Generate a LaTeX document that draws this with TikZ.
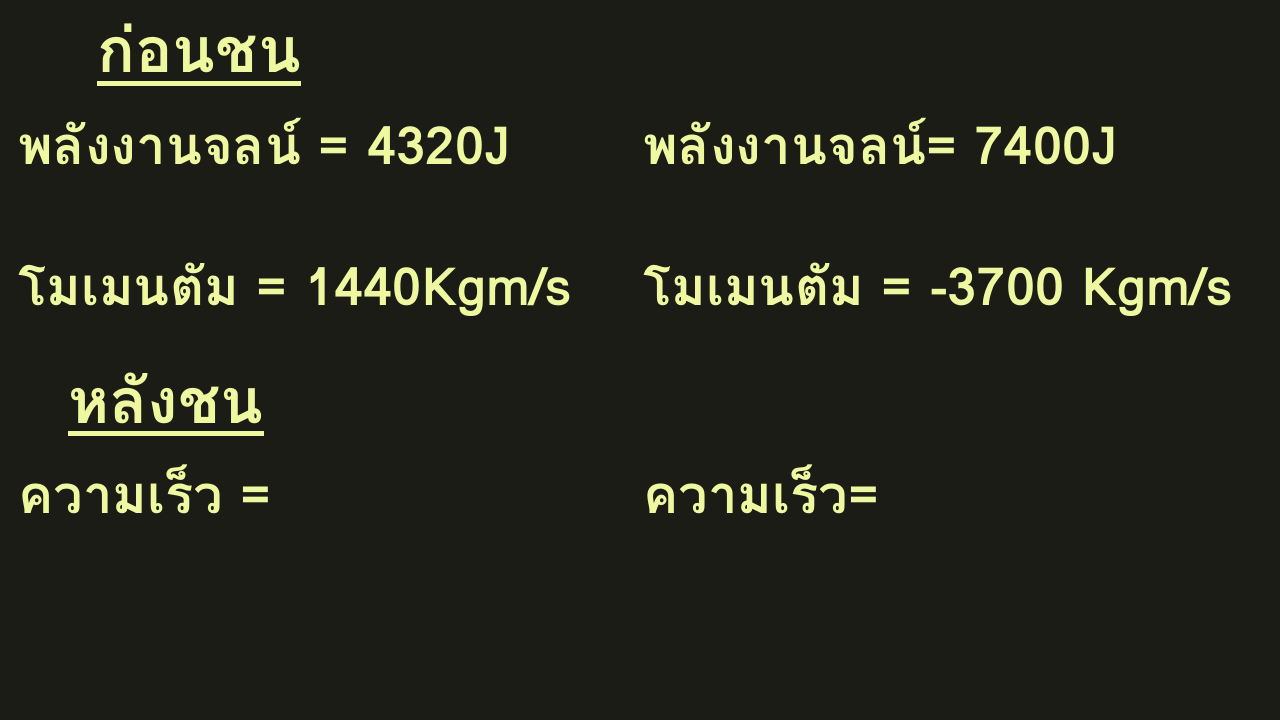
\documentclass[tikz,border=0pt]{standalone}
\usepackage{fontspec}
\newfontfamily\thaifont[Script=Thai]{Loma}
\definecolor{bg}{RGB}{28,28,22}
\definecolor{txt}{RGB}{238,248,160}
\begin{document}
\begin{tikzpicture}[x=0.75pt,y=-0.75pt,
  lbl/.style={anchor=base west,inner sep=0pt,text=txt,font=\thaifont\bfseries\fontsize{39.5}{46}\selectfont},
  head/.style={lbl,font=\thaifont\bfseries\fontsize{47}{54}\selectfont},
  uline/.style={draw=txt,line width=3.5pt}]
\fill[bg] (0,0) rectangle (1280,720);
\useasboundingbox (0,0) rectangle (1280,720);
\node[head] (h1) at (97,73) {ก่อนชน};
\draw[uline] (h1.south west) ++(0,10) coordinate (u1a) -- (h1.south east |- u1a);
\node[lbl] (e1) at (18,165) {พลังงานจลน์ = 4320J};
\node[lbl] (e2) at (643,165) {พลังงานจลน์= 7400J};
\node[lbl] (p1) at (18,305) {โมเมนตัม = 1440Kgm/s};
\node[lbl] (p2) at (643,305) {โมเมนตัม = -3700 Kgm/s};
\node[head] (h2) at (68,423) {หลังชน};
\draw[uline] (h2.south west) ++(0,10) coordinate (u2a) -- (h2.south east |- u2a);
\node[lbl] (v1) at (18,513) {ความเร็ว =};
\node[lbl] (v2) at (643,513) {ความเร็ว=};
\end{tikzpicture}
\end{document}
